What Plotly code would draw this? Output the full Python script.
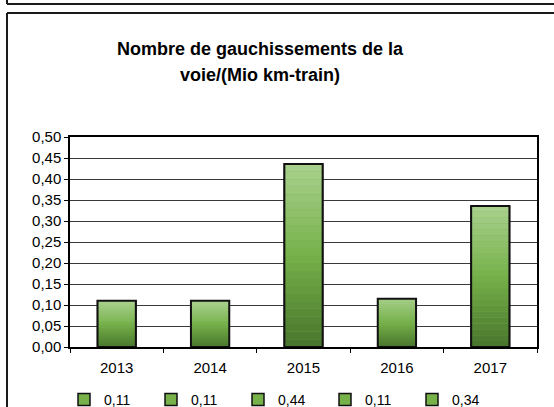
import plotly.graph_objects as go

years = ["2013", "2014", "2015", "2016", "2017"]
values = [0.11, 0.11, 0.436, 0.115, 0.336]
legend_labels = ["0,11", "0,11", "0,44", "0,11", "0,34"]
title_lines = ["Nombre de gauchissements de la", "voie/(Mio km-train)"]
y_ticks = [0.0, 0.05, 0.10, 0.15, 0.20, 0.25, 0.30, 0.35, 0.40, 0.45, 0.50]

W, H = 554, 407
ML, MR, MT, MB = 70, 17, 137, 60
PW, PH = W - ML - MR, H - MT - MB


def px_x(p):
    return (p - ML) / PW


def px_y(p):
    return (H - MB - p) / PH


def lerp(c1, c2, t):
    return tuple(round(a + (b - a) * t) for a, b in zip(c1, c2))


top_c = (170, 209, 143)
mid_c = (118, 177, 74)
bot_c = (72, 116, 44)

BAR_W = 0.41
N = 24

fig = go.Figure()

# legend-bearing full bars
for i, (yr, v, lab) in enumerate(zip(years, values, legend_labels)):
    fig.add_trace(go.Bar(
        x=[yr], y=[v], name=lab, width=BAR_W,
        marker=dict(color="rgb(118,177,74)", line=dict(color="#111", width=1.5)),
        hoverinfo="skip",
    ))

# gradient slices
for k in range(N):
    t = (k + 0.5) / N
    if t < 0.5:
        c = lerp(bot_c, mid_c, t / 0.5)
    else:
        c = lerp(mid_c, top_c, (t - 0.5) / 0.5)
    fig.add_trace(go.Bar(
        x=years, y=[v / N * 1.001 for v in values], base=[v * k / N for v in values],
        width=BAR_W, showlegend=False, hoverinfo="skip",
        marker=dict(color="rgb(%d,%d,%d)" % c, line=dict(width=0)),
    ))

# outlines
fig.add_trace(go.Bar(
    x=years, y=values, width=BAR_W, showlegend=False, hoverinfo="skip",
    marker=dict(color="rgba(0,0,0,0)", line=dict(color="#111", width=2)),
))

frame = dict(color="#1a1a1a", width=2)
shapes = [
    dict(type="line", xref="paper", yref="paper", x0=px_x(7), x1=px_x(7),
         y0=px_y(0), y1=px_y(4), line=frame),
    dict(type="line", xref="paper", yref="paper", x0=px_x(7), x1=px_x(554),
         y0=px_y(4), y1=px_y(4), line=frame),
    dict(type="line", xref="paper", yref="paper", x0=px_x(7), x1=px_x(7),
         y0=px_y(13), y1=px_y(407), line=frame),
    dict(type="line", xref="paper", yref="paper", x0=px_x(7), x1=px_x(554),
         y0=px_y(13), y1=px_y(13), line=frame),
]

annotations = [
    dict(text="<b>%s</b>" % title_lines[0], x=px_x(260), y=px_y(49), xref="paper", yref="paper",
         showarrow=False, font=dict(size=18, color="#000"), xanchor="center", yanchor="middle"),
    dict(text="<b>%s</b>" % title_lines[1], x=px_x(260), y=px_y(75), xref="paper", yref="paper",
         showarrow=False, font=dict(size=18, color="#000"), xanchor="center", yanchor="middle"),
]

fig.update_layout(
    width=W, height=H, autosize=False,
    margin=dict(l=ML, r=MR, t=MT, b=MB, autoexpand=False),
    paper_bgcolor="white", plot_bgcolor="white",
    barmode="overlay",
    separators=", ",
    font=dict(family="Liberation Sans, Arial, sans-serif", size=14, color="#000"),
    shapes=shapes, annotations=annotations,
    showlegend=True,
    legend=dict(orientation="h", x=px_x(64), y=px_y(400), xanchor="left", yanchor="middle",
                entrywidth=42, font=dict(size=14), itemclick=False,
                bgcolor="rgba(0,0,0,0)", tracegroupgap=0),
)

fig.update_xaxes(
    type="category", tickson="boundaries", ticks="outside", ticklen=4, tickcolor="#000",
    showline=True, linecolor="#000", linewidth=1.5, mirror=True,
    showgrid=False, tickfont=dict(size=15), ticklabelstandoff=6, fixedrange=True,
)
fig.update_yaxes(
    range=[0, 0.5], tickvals=y_ticks, tickformat=".2f", ticks="outside", ticklen=4,
    tickcolor="#000", showline=True, linecolor="#000", linewidth=1.5, mirror=True,
    showgrid=True, gridcolor="#3a3a3a", gridwidth=1, zeroline=False,
    tickfont=dict(size=15), fixedrange=True,
)

fig.write_html(
    "out.html",
    config=dict(displayModeBar=False),
    post_script="document.body.style.margin='0';document.body.style.overflow='hidden';",
)
